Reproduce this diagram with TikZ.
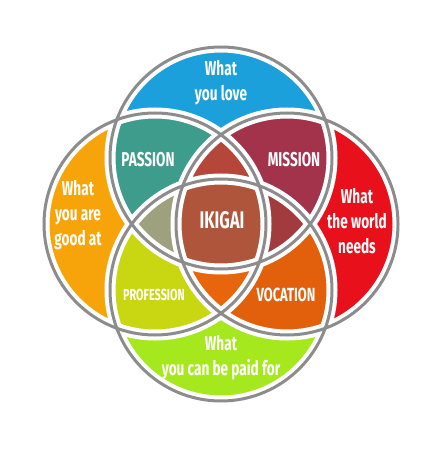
\documentclass[tikz,border=0pt]{standalone}
\usepackage{fontspec}
\setmainfont{Fira Sans}[FakeStretch=0.68]
\definecolor{cLove}{HTML}{1BA0DC}
\definecolor{cGood}{HTML}{F7A40A}
\definecolor{cWorld}{HTML}{E8101A}
\definecolor{cPaid}{HTML}{A6E81E}
\definecolor{cPassion}{HTML}{3E9C8C}
\definecolor{cMission}{HTML}{A3324B}
\definecolor{cProfession}{HTML}{C9D612}
\definecolor{cVocation}{HTML}{E2600C}
\definecolor{cTriTop}{HTML}{B4463A}
\definecolor{cTriLeft}{HTML}{9DA17E}
\definecolor{cTriRight}{HTML}{A23B3D}
\definecolor{cTriBottom}{HTML}{E8650C}
\definecolor{cIkigai}{HTML}{AF553B}
\definecolor{rimgray}{HTML}{8C8C8C}
\newcommand{\rr}{111pt}
\begin{document}
\begin{tikzpicture}[
  x=1pt, y=-1pt,
  txt/.style={text=white, align=center, inner sep=0pt, font=\fontsize{20}{25}\selectfont\bfseries},
  ring/.style={draw=white, line width=11pt},
  rim/.style={draw=rimgray, line width=3pt}
]
\useasboundingbox (0,0) rectangle (442,470);
\coordinate (T) at (221,158);
\coordinate (L) at (155,224);
\coordinate (R) at (287,224);
\coordinate (B) at (221,290);
% ---------------- single circles ----------------
\fill[cLove] (T) circle[radius=\rr];
\fill[cGood] (L) circle[radius=\rr];
\fill[cWorld] (R) circle[radius=\rr];
\fill[cPaid] (B) circle[radius=\rr];
% ---------------- pairs ----------------
\begin{scope}
  \clip (T) circle[radius=\rr];
  \fill[cPassion] (L) circle[radius=\rr];
  \fill[cMission] (R) circle[radius=\rr];
\end{scope}
\begin{scope}
  \clip (B) circle[radius=\rr];
  \fill[cProfession] (L) circle[radius=\rr];
  \fill[cVocation] (R) circle[radius=\rr];
\end{scope}
% ---------------- triples and centre ----------------
\begin{scope}
  \clip (T) circle[radius=\rr];
  \clip (L) circle[radius=\rr];
  \fill[cTriTop] (R) circle[radius=\rr];
  \fill[cTriLeft] (B) circle[radius=\rr];
\end{scope}
\begin{scope}
  \clip (B) circle[radius=\rr];
  \clip (R) circle[radius=\rr];
  \fill[cTriBottom] (L) circle[radius=\rr];
  \fill[cTriRight] (T) circle[radius=\rr];
\end{scope}
\begin{scope}
  \clip (T) circle[radius=\rr];
  \clip (L) circle[radius=\rr];
  \clip (R) circle[radius=\rr];
  \fill[cIkigai] (B) circle[radius=\rr];
\end{scope}
% ---------------- rims ----------------
\foreach \c in {T,L,R,B} \draw[ring] (\c) circle[radius=\rr];
\foreach \c in {T,L,R,B} \draw[rim] (\c) circle[radius=\rr];
% ---------------- labels ----------------
\node[txt] (love) at (221,83) {What\\you love};
\node[txt] (good) at (78,215) {What\\you are\\good at};
\node[txt] (world) at (357,221) {What\\the world\\needs};
\node[txt] (paid) at (221,358) {What\\you can be paid for};
\node[txt] (passion) at (148,160) {PASSION};
\node[txt] (mission) at (294,160) {MISSION};
\node[txt, font=\fontsize{16}{20}\selectfont\bfseries] (profession) at (154,295) {PROFESSION};
\node[txt, font=\fontsize{19}{23}\selectfont\bfseries] (vocation) at (286,295) {VOCATION};
\node[txt, font=\fontsize{24}{28}\selectfont\bfseries] (ikigai) at (222,220) {IKIGAI};
\end{tikzpicture}
\end{document}
